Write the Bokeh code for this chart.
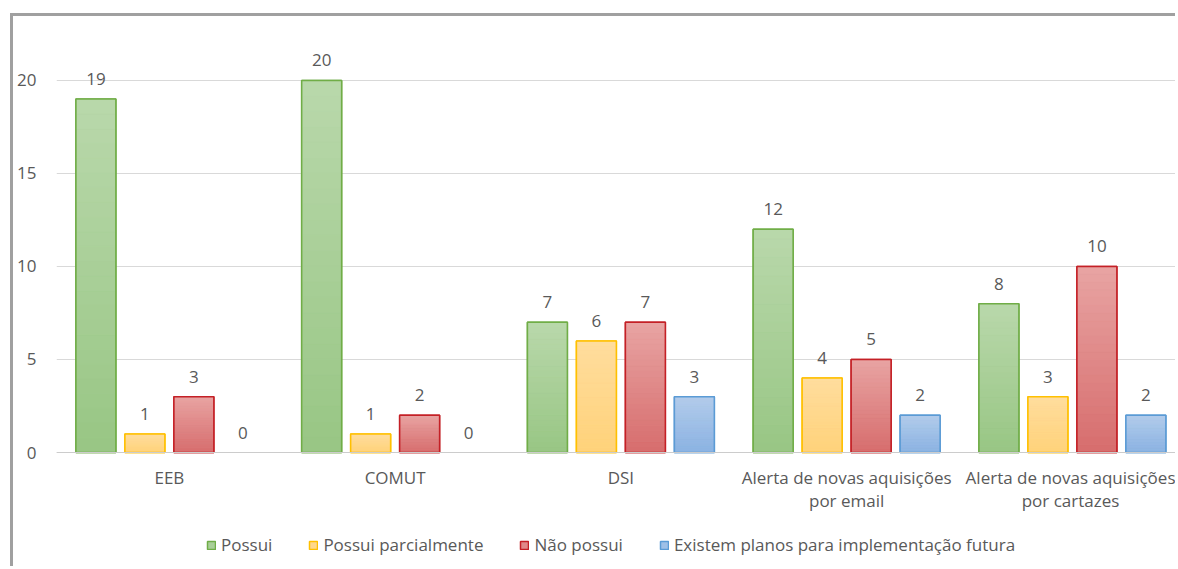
import numpy as np
from bokeh.plotting import figure
from bokeh.models import ColumnDataSource, FixedTicker, Legend, LegendItem, Range1d
from bokeh.embed import file_html
from bokeh.resources import INLINE
from bokeh.core.properties import value

# ---- data ----
categories = ["EEB", "COMUT", "DSI",
              "Alerta de novas aquisições\npor email",
              "Alerta de novas aquisições\npor cartazes"]
series = ["Possui", "Possui parcialmente", "Não possui",
          "Existem planos para implementação futura"]
possui = [19, 20, 7, 12, 8]
possui_parcialmente = [1, 1, 6, 4, 3]
nao_possui = [3, 2, 7, 5, 10]
existem_planos = [0, 0, 3, 2, 2]
y_ticks = [0, 5, 10, 15, 20]

# ---- styles ----
FONT = value("Open Sans")
FS = "17px"
TEXT_COLOR = "#595959"
line_colors = ["#70ad47", "#ffc000", "#c42026", "#5b9bd5"]
top_colors = ["#b9d8ab", "#ffdd9e", "#e8a4a3", "#b3cceb"]
bottom_colors = ["#98c684", "#ffd27a", "#d76d6d", "#8ab2e2"]
mid_colors = ["#a9cf98", "#ffd88c", "#e08989", "#9fc0e7"]
offsets = [-0.3255, -0.1085, 0.1085, 0.3255]
BAR_W = 0.177
K = 24

def hex2rgb(h):
    h = h.lstrip("#")
    return np.array([int(h[i:i + 2], 16) for i in (0, 2, 4)], dtype=float)

def rgb2hex(c):
    return "#%02x%02x%02x" % tuple(int(round(v)) for v in c)

p = figure(width=1165, height=553, output_backend="svg", toolbar_location=None,
           x_range=Range1d(-0.5, 4.470), y_range=Range1d(-6.29, 23.44),
           min_border_left=43, min_border_right=0, min_border_top=0,
           min_border_bottom=0)
p.margin = (13, 0, 0, 10)
p.styles = {"border-top": "3px solid #a0a0a0", "border-left": "3px solid #a0a0a0"}
p.outline_line_color = None
p.background_fill_color = "white"
p.border_fill_color = "white"

all_vals = [possui, possui_parcialmente, nao_possui, existem_planos]
xs_base = np.arange(len(categories), dtype=float)
legend_items = []
for si, vals in enumerate(all_vals):
    vals = np.array(vals, dtype=float)
    xs = xs_base + offsets[si]
    la = [1.0 if v > 0 else 0.0 for v in vals]
    src = ColumnDataSource(dict(x=xs, top=vals, la=la,
                                lab=[str(int(v)) for v in vals]))
    base = p.vbar(x="x", top="top", width=BAR_W, source=src,
                  fill_color=mid_colors[si], line_color=line_colors[si],
                  line_width=1.5, line_alpha="la")
    # gradient bands
    c0 = hex2rgb(bottom_colors[si]); c1 = hex2rgb(top_colors[si])
    bx, bb, bt, bc = [], [], [], []
    for x, v in zip(xs, vals):
        if v <= 0:
            continue
        for k in range(K):
            t = (k + 0.5) / K
            bx.append(x); bb.append(v * k / K); bt.append(v * (k + 1) / K)
            bc.append(rgb2hex(c0 + (c1 - c0) * t))
    bsrc = ColumnDataSource(dict(x=bx, bottom=bb, top=bt, c=bc))
    p.vbar(x="x", bottom="bottom", top="top", width=BAR_W - 0.004, source=bsrc,
           fill_color="c", line_color="c", line_width=0.6)
    p.vbar(x="x", top="top", width=BAR_W, source=src, fill_color=None,
           line_color=line_colors[si], line_width=1.5, line_alpha="la")
    p.text(x="x", y="top", text="lab", source=src, y_offset=-20,
           text_align="center", text_baseline="alphabetic",
           text_font=FONT, text_font_size=FS, text_color=TEXT_COLOR)
    first_nonzero = int(np.argmax(vals > 0))
    legend_items.append(LegendItem(label=series[si], renderers=[base],
                                   index=first_nonzero))

# axes
p.xgrid.grid_line_color = None
p.ygrid.grid_line_color = "#d9d9d9"
p.ygrid.grid_line_width = 1
p.ygrid.ticker = FixedTicker(ticks=y_ticks)

p.yaxis.ticker = FixedTicker(ticks=y_ticks)
p.yaxis.axis_line_color = None
p.yaxis.major_tick_line_color = None
p.yaxis.minor_tick_line_color = None
p.yaxis.major_label_standoff = 14
p.yaxis.major_label_text_font = "Open Sans"
p.yaxis.major_label_text_font_size = FS
p.yaxis.major_label_text_color = TEXT_COLOR

p.xaxis.fixed_location = 0
p.xaxis.ticker = FixedTicker(ticks=list(range(len(categories))))
p.xaxis.major_label_overrides = {i: c for i, c in enumerate(categories)}
p.xaxis.axis_line_color = "#cccccc"
p.xaxis.axis_line_width = 1
p.xaxis.major_tick_line_color = None
p.xaxis.minor_tick_line_color = None
p.xaxis.major_label_standoff = 7
p.xaxis.major_label_text_font = "Open Sans"
p.xaxis.major_label_text_font_size = FS
p.xaxis.major_label_text_line_height = 1.0
p.xaxis.major_label_text_color = TEXT_COLOR

legend = Legend(items=legend_items, location=(150, 13), orientation="horizontal",
                padding=0, margin=0, spacing=36, label_standoff=5,
                glyph_width=10, glyph_height=10,
                label_text_font="Open Sans", label_text_font_size=FS,
                label_text_color=TEXT_COLOR, border_line_color=None,
                background_fill_alpha=0)
p.add_layout(legend)

open("out.html", "w").write(file_html(p, INLINE))
